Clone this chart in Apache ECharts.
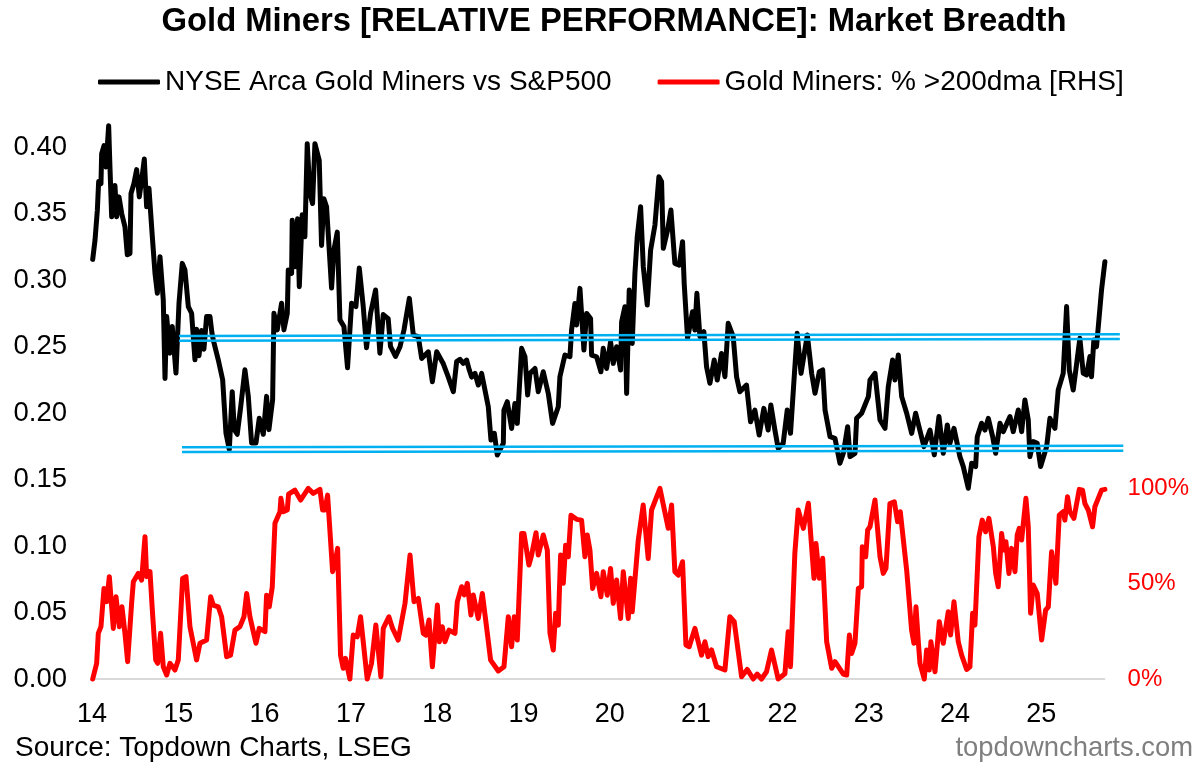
<!DOCTYPE html>
<html>
<head>
<meta charset="utf-8">
<script src="https://cdn.jsdelivr.net/npm/echarts@6/dist/echarts.min.js"></script>
<style>
  html, body { margin: 0; padding: 0; background: #fff; }
  #main { width: 1200px; height: 763px; }
</style>
</head>
<body>
<div id="main"></div>
<script>
// [year, ratio], year 14 = 2014
const ratioData = [
  [14.008,.3155],[14.035,.33],[14.062,.3525],[14.077,.374],[14.104,.3725],[14.112,.395],[14.139,.401],[14.162,.385],[14.193,.416],[14.208,.385],
  [14.228,.3475],[14.266,.371],[14.286,.3475],[14.313,.3625],[14.344,.35],[14.382,.34],[14.409,.319],[14.44,.32],[14.452,.365],[14.486,.3725],
  [14.517,.383],[14.548,.3625],[14.575,.375],[14.606,.391],[14.633,.355],[14.66,.369],[14.699,.3325],[14.73,.305],[14.757,.29],[14.788,.3175],
  [14.826,.285],[14.846,.226],[14.865,.2725],[14.903,.245],[14.93,.265],[14.973,.23],[15.008,.2825],[15.046,.3125],[15.077,.3075],[15.116,.28],
  [15.154,.275],[15.193,.24],[15.212,.263],[15.24,.243],[15.27,.262],[15.297,.248],[15.328,.2725],[15.367,.2725],[15.39,.26],[15.405,.255],
  [15.463,.24],[15.514,.225],[15.552,.185],[15.591,.1725],[15.625,.216],[15.649,.1875],[15.683,.184],[15.722,.204],[15.772,.2325],[15.811,.2125],
  [15.849,.1775],[15.9,.1775],[15.938,.196],[15.985,.184],[16.023,.2125],[16.05,.1875],[16.093,.21],[16.108,.275],[16.147,.2625],[16.197,.2825],
  [16.224,.2625],[16.263,.275],[16.274,.3075],[16.313,.305],[16.32,.345],[16.351,.31],[16.382,.346],[16.402,.295],[16.436,.349],[16.467,.3325],
  [16.494,.4025],[16.525,.365],[16.556,.3575],[16.583,.4025],[16.633,.39],[16.66,.326],[16.687,.361],[16.718,.355],[16.737,.335],[16.776,.294],
  [16.803,.3225],[16.842,.336],[16.873,.27],[16.919,.265],[16.961,.234],[17.008,.2825],[17.058,.28],[17.097,.309],[17.143,.28],[17.181,.249],
  [17.228,.275],[17.286,.2925],[17.336,.245],[17.375,.274],[17.432,.271],[17.459,.25],[17.517,.2425],[17.569,.2498],[17.615,.2624],[17.677,.2862],
  [17.723,.2586],[17.781,.2574],[17.82,.241],[17.897,.246],[17.944,.2235],[17.994,.246],[18.071,.237],[18.129,.227],[18.187,.216],[18.225,.2386],
  [18.264,.2403],[18.302,.2373],[18.341,.2398],[18.372,.2323],[18.399,.227],[18.438,.2298],[18.476,.221],[18.515,.2298],[18.592,.2047],[18.623,.1797],
  [18.662,.1847],[18.696,.1684],[18.766,.1771],[18.773,.2022],[18.812,.2085],[18.862,.1884],[18.901,.2072],[18.928,.1922],[18.978,.2486],[19.017,.2423],
  [19.048,.2135],[19.075,.2298],[19.133,.2335],[19.171,.216],[19.229,.231],[19.287,.2147],[19.337,.1922],[19.403,.2047],[19.422,.2273],[19.48,.2436],
  [19.538,.2423],[19.557,.2624],[19.596,.2824],[19.615,.2661],[19.654,.2937],[19.7,.2473],[19.731,.2749],[19.777,.2711],[19.789,.2436],[19.847,.2423],
  [19.897,.231],[19.924,.2486],[19.963,.2335],[20.009,.2536],[20.04,.2373],[20.079,.2498],[20.125,.2323],[20.137,.2686],[20.175,.2799],[20.195,.2147],
  [20.225,.2924],[20.26,.2523],[20.291,.305],[20.318,.3325],[20.357,.3551],[20.388,.31],[20.434,.2812],[20.473,.3225],[20.523,.3413],[20.569,.3776],
  [20.6,.3739],[20.62,.3238],[20.67,.3376],[20.708,.3526],[20.754,.3125],[20.805,.3112],[20.843,.3288],[20.862,.2975],[20.901,.2561],[20.959,.2761],
  [20.986,.2624],[21.009,.29],[21.044,.2574],[21.09,.2611],[21.121,.2348],[21.16,.2223],[21.21,.2398],[21.245,.2248],[21.295,.2448],[21.334,.2273],
  [21.372,.2674],[21.43,.2574],[21.469,.2273],[21.507,.216],[21.584,.221],[21.631,.1934],[21.681,.2022],[21.731,.1834],[21.785,.2035],[21.835,.1872],
  [21.866,.206],[21.913,.1872],[21.951,.1734],[22.009,.1772],[22.056,.2022],[22.094,.1847],[22.137,.2273],[22.171,.2599],[22.216,.2298],[22.289,.2587],
  [22.339,.2298],[22.378,.2148],[22.428,.2311],[22.467,.2324],[22.494,.2023],[22.552,.1822],[22.609,.181],[22.667,.1622],[22.706,.1697],[22.756,.1897],
  [22.783,.1672],[22.841,.1697],[22.86,.196],[22.918,.1998],[22.996,.2123],[23.015,.2248],[23.073,.2298],[23.131,.1948],[23.189,.1885],[23.227,.2198],
  [23.277,.2399],[23.304,.2248],[23.343,.2436],[23.382,.2123],[23.44,.1998],[23.498,.1847],[23.544,.1998],[23.64,.1747],[23.71,.1872],[23.76,.1685],
  [23.814,.1973],[23.864,.1697],[23.911,.191],[23.941,.1772],[23.988,.1885],[24.057,.1672],[24.096,.1597],[24.154,.1434],[24.193,.1622],[24.239,.1597],
  [24.258,.1822],[24.308,.1923],[24.347,.1872],[24.386,.196],[24.436,.1822],[24.471,.1697],[24.521,.1923],[24.559,.186],[24.637,.1973],[24.675,.186],
  [24.733,.2023],[24.772,.186],[24.81,.2098],[24.849,.1948],[24.868,.1672],[24.907,.1785],[24.953,.1772],[24.992,.1597],[25.062,.1747],[25.1,.196],
  [25.158,.1885],[25.196,.2173],[25.254,.2298],[25.293,.28],[25.324,.2324],[25.37,.2173],[25.41,.2373],[25.447,.2562],[25.486,.2298],[25.525,.2286],
  [25.563,.2424],[25.582,.2273],[25.609,.2549],[25.64,.2499],[25.698,.2925],[25.737,.3138]
];

// [year, % of miners above 200dma]
const breadthData = [
  [14.008,0],[14.054,8.2],[14.073,23.9],[14.104,27.4],[14.139,47.4],[14.17,40.5],[14.201,53.6],[14.247,26.5],[14.278,43.1],[14.317,27.4],
  [14.347,37.8],[14.382,23.9],[14.413,9.1],[14.459,39.6],[14.479,50.9],[14.537,55.3],[14.575,51.8],[14.614,74.5],[14.633,53.6],[14.672,56.2],
  [14.699,36.1],[14.738,10],[14.761,8.2],[14.795,23.9],[14.826,6.4],[14.865,2.1],[14.903,8.2],[14.961,4.7],[15,10],[15.05,52.7],
  [15.089,53.6],[15.135,27.4],[15.212,10],[15.251,18.7],[15.328,20.4],[15.375,43.1],[15.405,38.7],[15.463,37.8],[15.502,32.6],[15.56,11.7],
  [15.606,12.5],[15.656,25.6],[15.714,27.4],[15.761,32.6],[15.792,44.8],[15.83,32.6],[15.869,24.8],[15.9,18.7],[15.938,26.5],[16.004,24.8],
  [16.023,43.9],[16.054,37.8],[16.089,48.3],[16.12,81.5],[16.178,87.6],[16.189,94.6],[16.216,87.6],[16.263,88.5],[16.278,96.8],[16.351,98.9],
  [16.417,93.7],[16.506,99.8],[16.564,97.2],[16.641,99.3],[16.672,88.5],[16.699,88.5],[16.73,96.3],[16.788,56.2],[16.815,60.5],[16.846,68.4],
  [16.88,12.5],[16.911,5.6],[16.938,10.8],[16.988,0],[17.027,23],[17.073,22.1],[17.112,32.6],[17.189,0],[17.239,8.2],[17.289,28.3],
  [17.347,1.2],[17.375,26.5],[17.44,32.6],[17.483,26.5],[17.548,20.4],[17.569,20.4],[17.627,39.6],[17.685,64.9],[17.731,40.5],[17.781,42.2],
  [17.839,23.9],[17.87,23],[17.905,30.9],[17.944,6.4],[18.002,38.7],[18.025,19.5],[18.059,27.4],[18.09,19.5],[18.137,25.6],[18.206,23.9],
  [18.233,40.5],[18.283,48.3],[18.314,44],[18.349,50.1],[18.391,33.5],[18.418,44],[18.476,31.7],[18.523,44.8],[18.581,23.9],[18.619,9.9],
  [18.708,4.2],[18.774,6.4],[18.824,32.6],[18.862,16.9],[18.893,32.6],[18.928,20.4],[18.978,76.2],[19.005,76.2],[19.063,59.7],[19.094,64.9],
  [19.145,76.6],[19.171,64.9],[19.229,75.4],[19.276,67.5],[19.307,23.9],[19.345,15.2],[19.372,34.4],[19.403,28.2],[19.43,64.9],[19.461,50.1],
  [19.488,70.1],[19.519,64],[19.55,85.8],[19.615,83.6],[19.673,83.2],[19.712,64],[19.739,75.4],[19.77,67.5],[19.801,47.4],[19.847,55.3],
  [19.897,43.1],[19.924,56.2],[19.971,43.9],[20.009,57.9],[20.04,39.6],[20.079,51.8],[20.125,31.7],[20.156,56.2],[20.214,31.7],[20.241,52.7],
  [20.26,35.2],[20.291,51.8],[20.33,72.8],[20.387,91.1],[20.445,63.1],[20.484,88.5],[20.581,99.8],[20.677,78.9],[20.716,91.1],[20.754,56.2],
  [20.793,54.4],[20.843,61.4],[20.882,17.8],[20.92,16.9],[20.986,26.5],[21.063,12.5],[21.102,19.5],[21.14,11.7],[21.179,15.2],[21.237,6.4],
  [21.334,4.7],[21.391,32.6],[21.442,30],[21.527,1.2],[21.592,5],[21.662,0],[21.708,2.6],[21.758,0],[21.816,3.8],[21.874,15.2],
  [21.951,0],[22.029,2.7],[22.067,24.8],[22.094,6.4],[22.144,65.7],[22.183,88.5],[22.204,87.6],[22.243,78.9],[22.301,92],[22.366,52.7],
  [22.389,71],[22.428,52.7],[22.467,63.2],[22.513,19.5],[22.571,5.6],[22.61,9.1],[22.706,2.6],[22.745,2.1],[22.776,23],[22.802,13.4],
  [22.841,18.7],[22.88,47.4],[22.918,48.3],[22.926,69.3],[22.965,64],[22.988,78],[23.015,79.7],[23.073,93.7],[23.131,64],[23.169,55.3],
  [23.2,57.9],[23.246,91.9],[23.297,92.8],[23.335,82.3],[23.366,87.6],[23.44,57],[23.497,25.6],[23.524,18.7],[23.548,37.8],[23.575,19.5],
  [23.594,8.2],[23.644,0],[23.671,15.2],[23.702,4.7],[23.721,19.5],[23.768,3.8],[23.818,30],[23.864,18.7],[23.922,35.2],[23.949,23],
  [23.988,40.5],[24.038,19.5],[24.077,12.5],[24.135,5],[24.173,6.4],[24.204,34.4],[24.231,28.2],[24.277,74.5],[24.316,83.2],[24.355,77.1],
  [24.393,84.1],[24.444,69.3],[24.471,55.3],[24.501,48.3],[24.54,76.2],[24.567,67.5],[24.59,71.9],[24.625,55.3],[24.656,68.4],[24.695,56.2],
  [24.721,75.4],[24.745,78.9],[24.772,72.8],[24.822,94.6],[24.849,79.7],[24.876,34.4],[24.907,49.2],[24.953,44.8],[25.004,20.4],[25.05,36.1],
  [25.081,37.8],[25.119,66.6],[25.169,50.1],[25.208,85.8],[25.254,87.6],[25.273,83.2],[25.304,95.4],[25.331,87.6],[25.378,84.1],[25.44,99.3],
  [25.478,98.9],[25.505,91.9],[25.544,88.5],[25.594,79.7],[25.621,90.2],[25.66,94.6],[25.698,98.9],[25.737,99.3]
];

// hand-drawn blue channels on the ratio axis
const channelLines = [
  [[15.008,.2579],[25.91,.2592]],
  [[15.008,.2544],[25.91,.2556]],
  [[15.043,.1742],[25.95,.1754]],
  [[15.043,.1707],[25.95,.1717]]
];
const baseLine = [[14,0],[25.74,0]];

const ratioName = 'NYSE Arca Gold Miners vs S&P500';
const breadthName = 'Gold Miners: % >200dma [RHS]';
const fontName = '"Liberation Sans", Arial, sans-serif';

const chart = echarts.init(document.getElementById('main'));

const blueSeries = channelLines.map(function (line, i) {
  return {
    name: 'channel' + i,
    type: 'line',
    data: line,
    symbol: 'none',
    silent: true,
    clip: false,
    z: 5,
    lineStyle: { color: '#00b0f0', width: 2.5 }
  };
});

chart.setOption({
  animation: false,
  backgroundColor: '#fff',
  textStyle: { fontFamily: fontName },
  title: [{
    text: 'Gold Miners [RELATIVE PERFORMANCE]: Market Breadth',
    left: 609,
    top: 0,
    textAlign: 'center',
    textStyle: { fontSize: 32.8, fontWeight: 'bold', color: '#000', fontFamily: fontName }
  }, {
    text: 'Source: Topdown Charts, LSEG',
    left: 10,
    top: 729,
    textStyle: { fontSize: 28, fontWeight: 'normal', color: '#000', fontFamily: fontName }
  }, {
    text: 'topdowncharts.com',
    right: 2,
    top: 730,
    textStyle: { fontSize: 27.4, fontWeight: 'normal', color: '#7f7f7f', fontFamily: fontName }
  }],
  legend: {
    data: [ratioName, breadthName],
    left: 93,
    top: 63,
    itemWidth: 62,
    itemHeight: 5,
    itemGap: 46,
    icon: 'roundRect',
    textStyle: { fontSize: 28, color: '#000' }
  },
  grid: { left: 92, right: 72.4, top: 80.5, bottom: 84 },
  xAxis: {
    type: 'value',
    min: 14,
    max: 26,
    interval: 1,
    splitLine: { show: false },
    axisLine: { show: false },
    axisTick: { show: false },
    axisLabel: { fontSize: 27, color: '#000', margin: 22, showMaxLabel: false }
  },
  yAxis: [{
    type: 'value',
    min: 0,
    max: 0.45,
    interval: 0.05,
    splitLine: { show: false },
    axisLine: { show: false },
    axisTick: { show: false },
    axisLabel: {
      fontSize: 27.5,
      color: '#000',
      margin: 25,
      showMaxLabel: false,
      formatter: function (v) { return v.toFixed(2); }
    }
  }, {
    type: 'value',
    position: 'right',
    min: 0,
    max: 313.4,
    interval: 50,
    splitLine: { show: false },
    axisLine: { show: false },
    axisTick: { show: false },
    axisLabel: {
      fontSize: 24,
      color: '#ff0000',
      margin: 0,
      showMaxLabel: false,
      formatter: function (v) { return v <= 100 ? v + '%' : ''; }
    }
  }],
  series: [{
    name: 'base',
    type: 'line',
    data: baseLine,
    symbol: 'none',
    silent: true,
    z: 1,
    lineStyle: { color: '#d9d9d9', width: 2 }
  }, {
    name: ratioName,
    type: 'line',
    data: ratioData,
    symbol: 'none',
    clip: false,
    z: 3,
    itemStyle: { color: '#000' },
    lineStyle: { color: '#000', width: 5, join: 'round', cap: 'round' }
  }, {
    name: breadthName,
    type: 'line',
    yAxisIndex: 1,
    data: breadthData,
    symbol: 'none',
    clip: false,
    z: 3,
    itemStyle: { color: '#ff0000' },
    lineStyle: { color: '#ff0000', width: 5, join: 'round', cap: 'round' }
  }].concat(blueSeries)
});
</script>
</body>
</html>
